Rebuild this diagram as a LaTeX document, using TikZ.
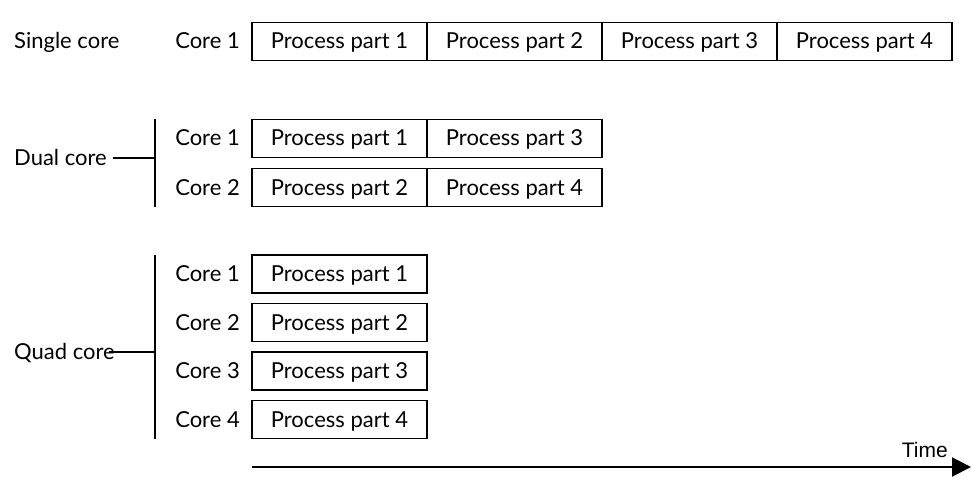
\documentclass[tikz,border=0pt]{standalone}
\usepackage{fontspec}
\setmainfont{Lato}
\newfontfamily\timefont{Liberation Sans}
\usepackage{tikz}
\usetikzlibrary{positioning,arrows.meta}
\tikzstyle{partbox}=[draw,%
                     rectangle,%
                     line width    = 1.2pt,%
                     outer sep     = 0pt,%
                     minimum width = 175pt,%
                     minimum height= 38pt,%
                     inner sep     = 0pt,%
                     text height   = 16pt,%
                     text depth    = 1pt,%
                     font          = \fontsize{22}{26}\selectfont]
\tikzstyle{corelabel}=[inner sep=0pt, anchor=east, text height=16pt, text depth=1pt, font=\fontsize{22}{26}\selectfont]
\tikzstyle{grouplabel}=[inner sep=0pt, anchor=west, text height=16pt, text depth=1pt, font=\fontsize{22}{26}\selectfont]
\tikzstyle{bracket}=[line width=2pt]

\begin{document}
\begin{tikzpicture}[x=1pt,y=-1pt]
            \useasboundingbox (0,0) rectangle (979,484);
            % single core
            \node[partbox] (s1) at (339.5,41.5) {Process part 1};
            \node[partbox][right=0pt of s1] (s2) {Process part 2};
            \node[partbox][right=0pt of s2] (s3) {Process part 3};
            \node[partbox][right=0pt of s3] (s4) {Process part 4};
            \node[corelabel][left=12pt of s1] (sc1) {Core 1};
            \node[grouplabel] (single) at (14,41.5) {Single core};
            % dual core
            \node[partbox] (d1) at (339.5,138.5) {Process part 1};
            \node[partbox][right=0pt of d1] (d3) {Process part 3};
            \node[partbox] (d2) at (339.5,187.5) {Process part 2};
            \node[partbox][right=0pt of d2] (d4) {Process part 4};
            \node[corelabel][left=12pt of d1] (dc1) {Core 1};
            \node[corelabel][left=12pt of d2] (dc2) {Core 2};
            \node[grouplabel] (dual) at (14,158) {Dual core};
            \coordinate (dtop) at (155,119);
            \coordinate (dbot) at (155,207);
            \coordinate (dmid) at (155,158);
            \draw[bracket] (dtop) -- (dbot);
            \draw[bracket] (dual.east) ++(6,0) -- (dmid);
            % quad core
            \node[partbox] (q1) at (339.5,274) {Process part 1};
            \node[partbox] (q2) at (339.5,322.5) {Process part 2};
            \node[partbox] (q3) at (339.5,371) {Process part 3};
            \node[partbox] (q4) at (339.5,419.5) {Process part 4};
            \node[corelabel][left=12pt of q1] (qc1) {Core 1};
            \node[corelabel][left=12pt of q2] (qc2) {Core 2};
            \node[corelabel][left=12pt of q3] (qc3) {Core 3};
            \node[corelabel][left=12pt of q4] (qc4) {Core 4};
            \node[grouplabel] (quad) at (14,352) {Quad core};
            \coordinate (qtop) at (155,255);
            \coordinate (qbot) at (155,439);
            \coordinate (qmid) at (155,352);
            \draw[bracket] (qtop) -- (qbot);
            \draw[bracket] (quad.east) ++(-6,0) -- (qmid);
            % time axis
            \coordinate (tstart) at (252,467);
            \coordinate (tend) at (971,467);
            \draw[line width=2pt,-{Triangle[length=19pt,width=19pt]}] (tstart) -- (tend);
            \node[inner sep=0pt, anchor=south east, font=\timefont\fontsize{21}{24}\selectfont] (time) at (948,458) {Time};
  \end{tikzpicture}
\end{document}
